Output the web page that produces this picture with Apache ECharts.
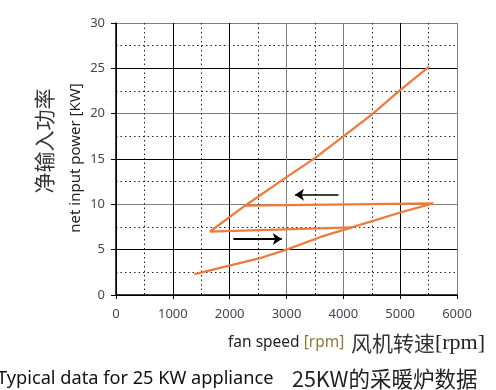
<!DOCTYPE html>
<html>
<head>
<meta charset="utf-8">
<script src="https://cdn.jsdelivr.net/npm/echarts@6/dist/echarts.min.js"></script>
<style>
html,body{margin:0;padding:0;background:#fff;}
#main{width:496px;height:390px;}
</style>
</head>
<body>
<div id="main"></div>
<script>
// ---- data ----
var xTicks = [0, 1000, 2000, 3000, 4000, 5000, 6000];
var yTicks = [0, 5, 10, 15, 20, 25, 30];
// lower (rising) branch, then back along the top leg to the knee
var loopX = [1380, 2500, 3000, 3600, 4150, 5000, 5580, 2270];
var loopY = [2.3, 4.0, 5.0, 6.4, 7.45, 9.1, 10.1, 9.85];
// return leg left, then upper diagonal branch
var upperX = [4150, 1655, 2270, 3000, 3500, 4000, 4500, 5000, 5510];
var upperY = [7.45, 7.0, 9.85, 13.0, 15.1, 17.5, 19.9, 22.6, 25.2];
// direction arrows [fromX, fromY, toX, toY]
var arrowLeft = [3915, 11.07, 3150, 11.07];
var arrowRight = [2065, 6.17, 2917, 6.17];

var yTitleEn = 'net input power [KW]';
var yTitleZh = '净输入功率';
var xTitleEn = 'fan speed ';
var xTitleUnit = '[rpm]';
var xTitleZh = '风机转速';
var xTitleZhUnit = '[rpm]';
var captionEn = 'Typical data for 25 KW appliance';
var captionZh = '25KW的采暖炉数据';

function zip(a, b) { return a.map(function (v, i) { return [v, b[i]]; }); }

var chart = echarts.init(document.getElementById('main'));
var font = 'Noto Sans';
var orange = '#EC7B3C';

chart.setOption({
  animation: false,
  grid: { left: 116, top: 23, right: 39, bottom: 95 },
  xAxis: {
    type: 'value', min: xTicks[0], max: xTicks[xTicks.length - 1], interval: 1000,
    axisLine: { show: true, lineStyle: { color: '#000', width: 1.5 } },
    axisTick: { show: true, length: 4, lineStyle: { color: '#000' } },
    axisLabel: { margin: 13, color: '#4a4450', fontSize: 13, fontFamily: font,
      formatter: function (v) { return String(v); } },
    splitLine: { show: true, lineStyle: { color: ['#000', '#000', '#000', '#808080', '#808080', '#000', '#808080'], width: 1 } },
    minorTick: { show: true, splitNumber: 2, length: 0 },
    minorSplitLine: { show: true, lineStyle: { color: '#222', type: [1.5, 3], width: 1 } }
  },
  yAxis: {
    type: 'value', min: yTicks[0], max: yTicks[yTicks.length - 1], interval: 5,
    axisLine: { show: true, lineStyle: { color: '#000', width: 1.5 } },
    axisTick: { show: true, length: 5, lineStyle: { color: '#000' } },
    axisLabel: { margin: 11, color: '#4a4450', fontSize: 13, fontFamily: font,
      formatter: function (v) { return String(v); } },
    splitLine: { show: true, lineStyle: { color: ['#000', '#000', '#808080', '#000', '#808080', '#000', '#808080'], width: 1 } },
    minorTick: { show: true, splitNumber: 2, length: 0 },
    minorSplitLine: { show: true, lineStyle: { color: '#222', type: [1.5, 3], width: 1 } }
  },
  series: [
    { type: 'line', data: zip(loopX, loopY), showSymbol: false, symbol: 'none',
      lineStyle: { color: orange, width: 2.3 }, z: 5 },
    { type: 'line', data: zip(upperX, upperY), showSymbol: false, symbol: 'none',
      lineStyle: { color: orange, width: 2.3 }, z: 5 },
    { type: 'lines', coordinateSystem: 'cartesian2d', z: 6,
      symbol: ['none', 'arrow'], symbolSize: [0, 9],
      lineStyle: { color: '#000', width: 1.5, opacity: 1 },
      data: [
        { coords: [[arrowLeft[0], arrowLeft[1]], [arrowLeft[2], arrowLeft[3]]] },
        { coords: [[arrowRight[0], arrowRight[1]], [arrowRight[2], arrowRight[3]]], lineStyle: { width: 2.2 } }
      ] }
  ],
  graphic: [
    { type: 'text', x: 76, y: 158, rotation: Math.PI / 2,
      style: { text: yTitleEn, font: '15px "Noto Sans"', fill: '#222', align: 'center', verticalAlign: 'middle' } },
    { type: 'text', x: 44, y: 141, rotation: Math.PI / 2,
      style: { text: yTitleZh, font: '21px "Noto Sans CJK SC"', fill: '#333', align: 'center', verticalAlign: 'middle' } },
    { type: 'text', x: 228, y: 343,
      style: { text: '{a|' + xTitleEn + '}{u|' + xTitleUnit + '}  {z|' + xTitleZh + '}{r|' + xTitleZhUnit + '}',
        verticalAlign: 'middle',
        rich: {
          a: { font: '15.5px "Noto Sans"', fill: '#222' },
          u: { font: '15.5px "Noto Sans"', fill: '#8a7a3a' },
          z: { font: '21px "Noto Sans CJK SC"', fill: '#333' },
          r: { font: '22px "Liberation Serif"', fill: '#222' }
        } } },
    { type: 'text', x: -3, y: 379,
      style: { text: captionEn, font: '18.2px "Noto Sans"', fill: '#111', verticalAlign: 'middle' } },
    { type: 'text', x: 292, y: 379,
      style: { text: captionZh, font: '21.5px "Noto Sans CJK SC"', fill: '#222', verticalAlign: 'middle' } }
  ]
});
</script>
</body>
</html>
